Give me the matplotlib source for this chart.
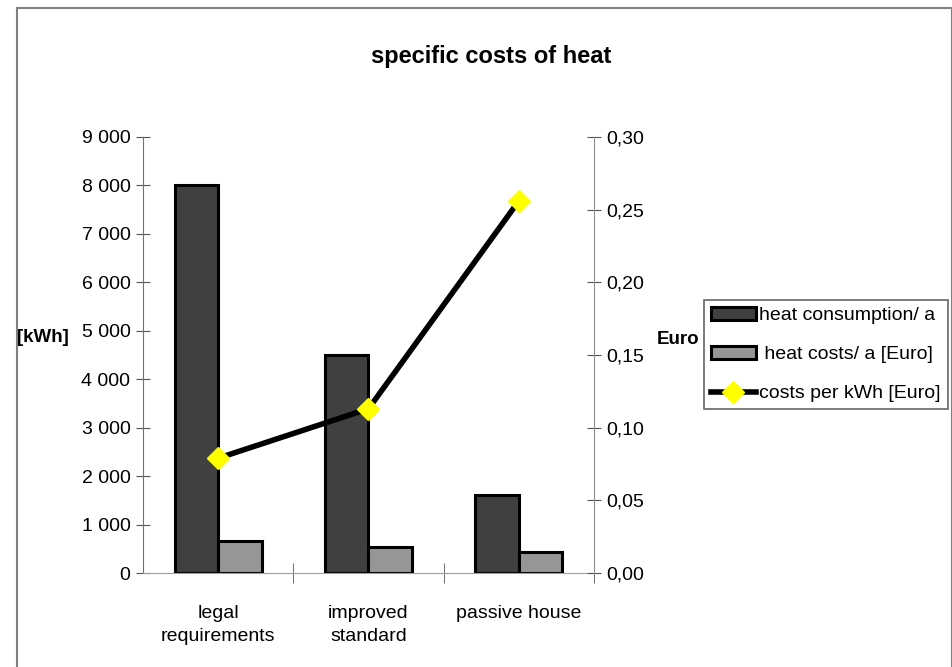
import numpy as np
import matplotlib.pyplot as plt
from matplotlib.patches import Rectangle
from matplotlib.ticker import FuncFormatter, MultipleLocator

plt.rcParams['font.family'] = ['Liberation Sans', 'DejaVu Sans']

# data
categories = ['legal\nrequirements', 'improved\nstandard', 'passive house']
heat_consumption = [8000, 4500, 1600]
heat_costs = [660, 540, 430]
costs_per_kwh = [0.079, 0.113, 0.256]

fig = plt.figure(figsize=(9.53, 6.67), dpi=100)
fig.patches.append(Rectangle((17 / 953, -0.1), (952 - 17) / 953, 1.1 - 8 / 667,
                             transform=fig.transFigure, fill=False,
                             edgecolor='#808080', linewidth=1.5))

ax = fig.add_axes([143 / 953, 1 - 573 / 667, (594 - 143) / 953, (573 - 137) / 667])
ax2 = ax.twinx()

x = np.arange(len(categories))
w = 0.29
b1 = ax.bar(x - w / 2, heat_consumption, w, color='#404040', edgecolor='black',
            linewidth=2.2, label='heat consumption/ a', zorder=2)
b2 = ax.bar(x + w / 2, heat_costs, w, color='#969696', edgecolor='black',
            linewidth=2.2, label=' heat costs/ a [Euro]', zorder=2)
ln, = ax2.plot(x, costs_per_kwh, color='black', linewidth=4, marker='D',
               markersize=11, markerfacecolor='#ffff00', markeredgecolor='#ffff00',
               label='costs per kWh [Euro]')

ax.set_xlim(-0.5, 2.5)
ax.set_ylim(0, 9000)
ax2.set_ylim(0, 0.30)
ax.yaxis.set_major_locator(MultipleLocator(1000))
ax2.yaxis.set_major_locator(MultipleLocator(0.05))
ax.yaxis.set_major_formatter(FuncFormatter(lambda v, p: f'{int(v):,}'.replace(',', ' ')))
ax2.yaxis.set_major_formatter(FuncFormatter(lambda v, p: f'{v:.2f}'.replace('.', ',')))

ax.set_xticks(x)
ax.set_xticklabels(categories, fontsize=14, linespacing=1.45)
ax.set_xticks([0.5, 1.5, 2.5], minor=True)
ax.tick_params(axis='x', which='major', length=0, pad=23)
ax.tick_params(axis='x', which='minor', length=14, direction='inout', color='#555555')

for a in (ax, ax2):
    a.spines['top'].set_visible(False)
    a.spines['left'].set_color('#707070')
    a.spines['right'].set_color('#909090')
    a.spines['bottom'].set_color('#a0a0a0')
ax.spines['right'].set_visible(False)
ax2.spines['left'].set_visible(False)
ax2.spines['bottom'].set_visible(False)
ax.tick_params(axis='y', length=10, direction='inout', color='#555555', labelsize=14, pad=4)
ax2.tick_params(axis='y', length=10, direction='inout', color='#555555', labelsize=14, pad=4)

ax.set_ylabel('[kWh]', rotation=0, fontsize=13.5, fontweight='bold', va='center', ha='left')
ax.yaxis.set_label_coords(-0.28, 0.54)
ax2.set_ylabel('Euro', rotation=0, fontsize=13.5, fontweight='bold', va='center', ha='left')
ax2.yaxis.set_label_coords(1.14, 0.535)

fig.text(491 / 953, 1 - 57 / 667, 'specific costs of heat', ha='center', va='center',
         fontsize=17, fontweight='bold')

leg = fig.legend(handles=[b1, b2, ln], loc='upper left', bbox_to_anchor=(704 / 953, 1 - 300 / 667),
                 fontsize=14, frameon=True, fancybox=False, edgecolor='#404040',
                 handlelength=2.3, handletextpad=0.2, borderpad=0.35, labelspacing=1.1,
                 borderaxespad=0)
leg.get_frame().set_linewidth(1.2)

fig.savefig('out.png', dpi=100)
